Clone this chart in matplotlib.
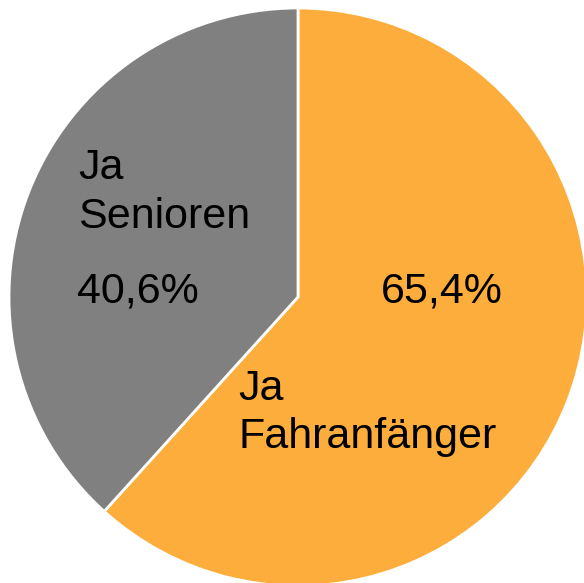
import matplotlib.pyplot as plt

# donnees du graphique
anteile = [65.4, 40.6]
gruppen = ["Fahranfänger", "Senioren"]
farben = ["#FDAD3B", "#808080"]
prozent_text = ["65,4%", "40,6%"]

W, H = 584, 583

fig = plt.figure(figsize=(W / 100, H / 100), dpi=100)
ax = fig.add_axes([0, 0, 1, 1])
ax.set_xlim(0, W)
ax.set_ylim(0, H)
ax.axis("off")

ax.pie(anteile, colors=farben, startangle=90, counterclock=False,
       center=(298, H - 297), radius=289,
       wedgeprops=dict(edgecolor="white", linewidth=2))
ax.set_xlim(0, W)
ax.set_ylim(0, H)

font = dict(family="Liberation Sans", fontsize=31, color="black", va="baseline", ha="left")

# etiquettes (position en pixels, origine en haut a gauche)
# Fahranfaenger
ax.text(238, H - 400, "Ja", **font)
ax.text(238, H - 448, gruppen[0], **font)
ax.text(381, H - 302, prozent_text[0], **font)
# Senioren
ax.text(78, H - 179, "Ja", **font)
ax.text(78, H - 228, gruppen[1], **font)
ax.text(77, H - 302, prozent_text[1], **font)

fig.savefig("out.png", dpi=100)
